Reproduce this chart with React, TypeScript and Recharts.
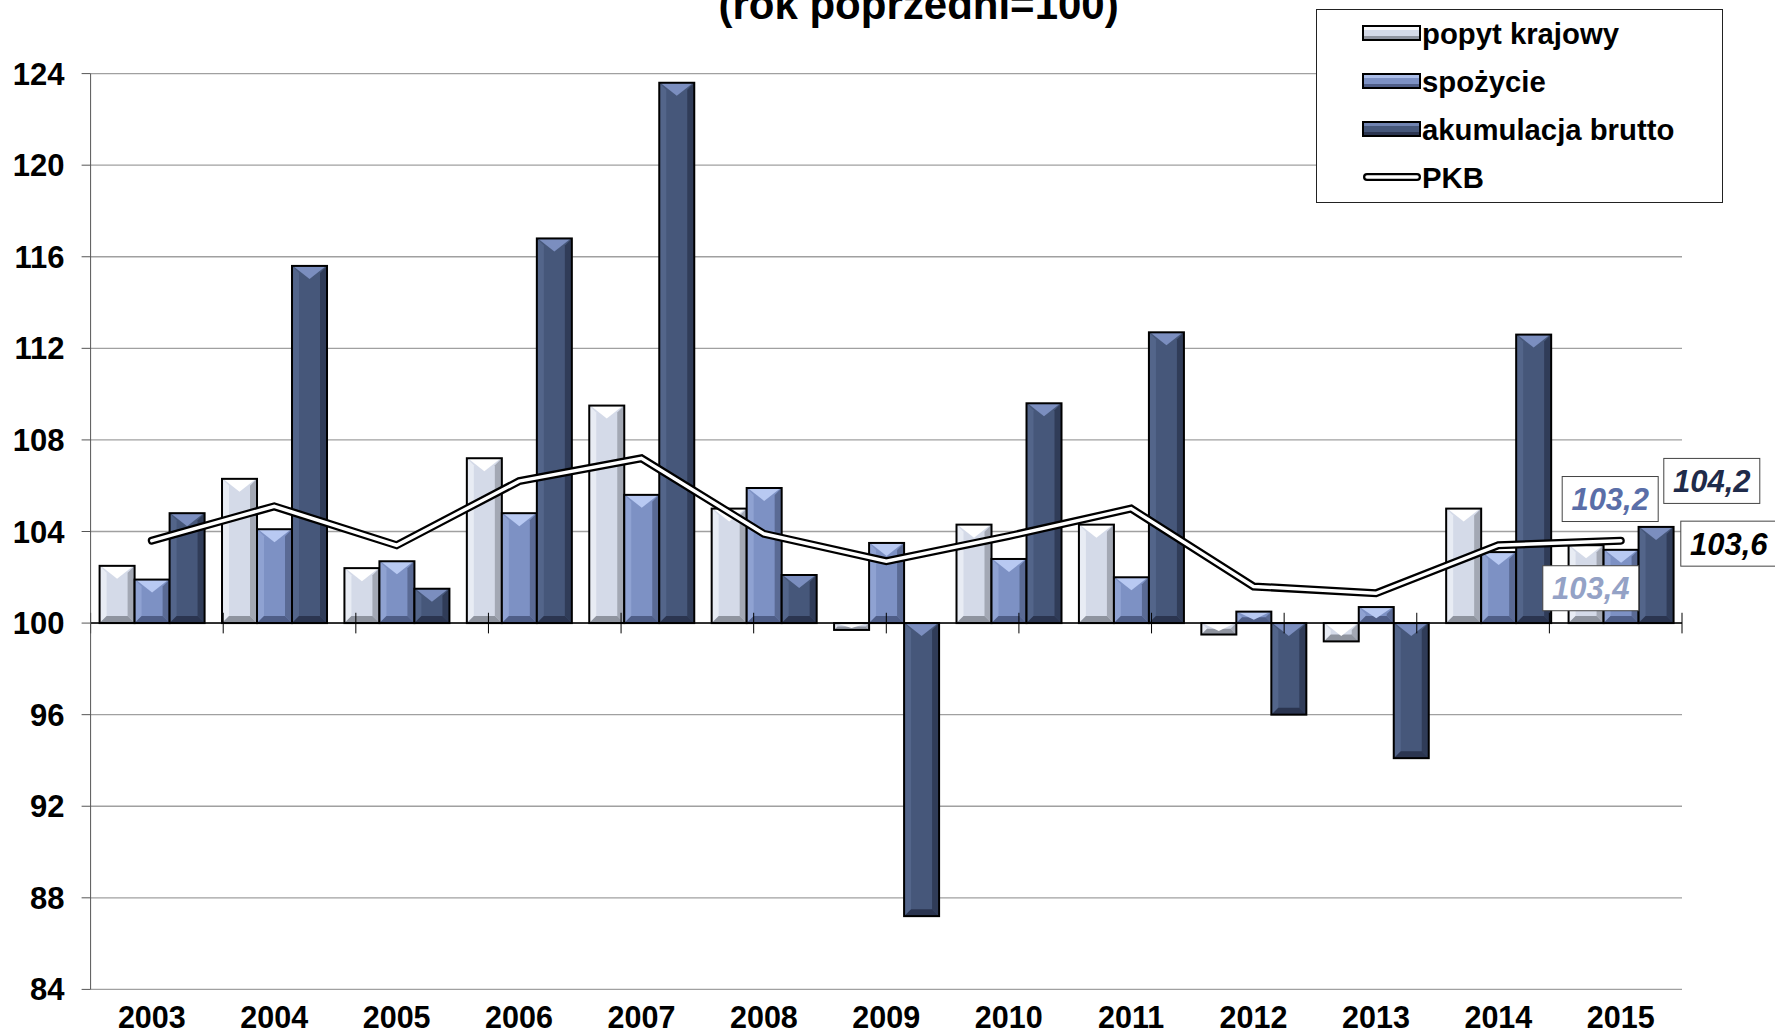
import { ComposedChart, Bar, Line, XAxis, YAxis, CartesianGrid, ReferenceLine, ReferenceDot, Legend } from 'recharts';

const years = ['2003', '2004', '2005', '2006', '2007', '2008', '2009', '2010', '2011', '2012', '2013', '2014', '2015'];
const popyt = [102.5, 106.3, 102.4, 107.2, 109.5, 105.0, 99.7, 104.3, 104.3, 99.5, 99.2, 105.0, 103.4];
const spozycie = [101.9, 104.1, 102.7, 104.8, 105.6, 105.9, 103.5, 102.8, 102.0, 100.5, 100.7, 103.1, 103.2];
const akumulacja = [104.8, 115.6, 101.5, 116.8, 123.6, 102.1, 87.2, 109.6, 112.7, 96.0, 94.1, 112.6, 104.2];
const pkb = [103.6, 105.1, 103.4, 106.2, 107.2, 103.9, 102.7, 103.8, 105.0, 101.6, 101.3, 103.4, 103.6];
const yTicks = [84, 88, 92, 96, 100, 104, 108, 112, 116, 120, 124];

const FONT = '"Liberation Sans", Arial, sans-serif';

const data = years.map((year, i) => ({
  year,
  popyt: popyt[i],
  spozycie: spozycie[i],
  akumulacja: akumulacja[i],
  pkb: pkb[i],
}));

// bars hang from the 100 line, up or down
const span = (key: string) => (d: any) => (d[key] >= 100 ? [100, d[key]] : [d[key], 100]);

const PAL: Record<string, any> = {
  popyt: { face: '#d4dae8', left: '#e8ecf4', right: '#a3a8b4', bottom: '#8f949f', top: '#ffffff' },
  spozycie: { face: '#7d91c4', left: '#8fa2d2', right: '#5a6a94', bottom: '#4f5e88', top: '#b8c9f2' },
  akumulacja: { face: '#46577a', left: '#53658a', right: '#303c58', bottom: '#2b3550', top: '#7b8ebf' },
};

const BevelRect = (props: any) => {
  const { x, y, width, height, pal } = props;
  const top = height < 0 ? y + height : y;
  const h = Math.abs(height);
  const w = width;
  if (!w || !h) return null;
  const b = Math.min(7, w / 4, h / 2);
  const t = Math.min(13, h * 0.7);
  return (
    <g>
      <rect x={x} y={top} width={w} height={h} fill={pal.face} />
      <polygon points={`${x},${top} ${x + b},${top + b} ${x + b},${top + h - b} ${x},${top + h}`} fill={pal.left} />
      <polygon points={`${x + w},${top} ${x + w - b},${top + b} ${x + w - b},${top + h - b} ${x + w},${top + h}`} fill={pal.right} />
      <polygon points={`${x},${top + h} ${x + b},${top + h - b} ${x + w - b},${top + h - b} ${x + w},${top + h}`} fill={pal.bottom} />
      <polygon points={`${x + 1},${top} ${x + w - 1},${top} ${x + w / 2},${top + t}`} fill={pal.top} />
      <rect x={x} y={top} width={w} height={h} fill="none" stroke="#000" strokeWidth={2} />
    </g>
  );
};

const legendItems = [
  { name: 'popyt krajowy', pal: PAL.popyt },
  { name: 'spożycie', pal: PAL.spozycie },
  { name: 'akumulacja brutto', pal: PAL.akumulacja },
  { name: 'PKB', pal: null },
];

const LegendBox = () => (
  <svg width={408} height={195} style={{ display: 'block' }}>
    <rect x={0.5} y={0.5} width={406} height={193} fill="#fff" stroke="#222" strokeWidth={1} />
    {legendItems.map((it, i) => {
      const cy = 24 + i * 48;
      return (
        <g key={it.name}>
          {it.pal ? (
            <g>
              <rect x={47} y={cy - 7} width={57} height={14} fill={it.pal.face} />
              <rect x={47} y={cy - 7} width={57} height={4} fill={it.pal.top} opacity={0.8} />
              <rect x={47} y={cy + 3} width={57} height={4} fill={it.pal.bottom} />
              <rect x={47} y={cy - 7} width={57} height={14} fill="none" stroke="#000" strokeWidth={2} />
            </g>
          ) : (
            <g>
              <line x1={51} y1={cy} x2={101} y2={cy} stroke="#000" strokeWidth={8} strokeLinecap="round" />
              <line x1={51} y1={cy} x2={101} y2={cy} stroke="#fff" strokeWidth={3.5} strokeLinecap="round" />
            </g>
          )}
          <text x={106} y={cy} dy="0.36em" fontFamily={FONT} fontSize={29.3} fontWeight="bold" fill="#000">
            {it.name}
          </text>
        </g>
      );
    })}
  </svg>
);

const fmt = (v: number) => v.toFixed(1).replace('.', ',');

const AnnoBox = (props: any) => {
  const { cx, cy, dx, dy, text, color } = props;
  return (
    <g>
      <rect x={cx + dx - 48} y={cy + dy - 22.5} width={96} height={45} fill="#fff" stroke="#444" strokeWidth={1} />
      <text x={cx + dx} y={cy + dy} dy="0.36em" textAnchor="middle" fontFamily={FONT} fontSize={31}
        fontWeight="bold" fontStyle="italic" fill={color}>
        {text}
      </text>
    </g>
  );
};

const last = years.length - 1;
const boundaries = Array.from({ length: years.length + 1 }, (_, i) => i);

export default function App() {
  return (
    <div style={{ position: 'fixed', left: 0, top: 0, width: 1775, height: 1034, background: '#fff' }}>
      <svg width={1775} height={40} style={{ position: 'absolute', left: 0, top: 0, zIndex: 2 }}>
        <text x={918.6} y={19} textAnchor="middle" fontFamily={FONT} fontSize={42} fontWeight="bold" fill="#000">
          (rok poprzedni=100)
        </text>
      </svg>
      <ComposedChart
        width={1775}
        height={1034}
        data={data}
        margin={{ top: 73.6, right: 93, left: 0, bottom: 0 }}
        barCategoryGap={9}
        barGap={0}
      >
        <CartesianGrid horizontal vertical={false} stroke="#a0a0a0" strokeWidth={1.3} />
        <XAxis
          dataKey="year"
          axisLine={false}
          tickLine={false}
          tickSize={0}
          tickMargin={17}
          height={44.6}
          interval={0}
          tick={{ fontSize: 30.5, fontWeight: 'bold', fill: '#000', fontFamily: FONT }}
        />
        <XAxis xAxisId="b" type="number" domain={[0, years.length]} hide />
        <YAxis
          domain={[84, 124]}
          ticks={yTicks}
          interval={0}
          allowDataOverflow
          width={90.6}
          tickSize={9}
          tickMargin={17}
          axisLine={{ stroke: '#555' }}
          tickLine={{ stroke: '#555' }}
          tick={{ fontSize: 31, fontWeight: 'bold', fill: '#000', fontFamily: FONT }}
        />
        <ReferenceLine y={100} stroke="#000" strokeWidth={1.5} />
        {boundaries.map((i) => (
          <ReferenceLine
            key={i}
            xAxisId="b"
            segment={[{ x: i, y: 99.55 }, { x: i, y: 100.45 }]}
            stroke="#000"
            strokeWidth={1}
          />
        ))}
        <Legend
          layout="vertical"
          verticalAlign="middle"
          align="center"
          content={() => <LegendBox />}
          wrapperStyle={{ position: 'absolute', left: 1316, top: 9, width: 408, height: 195 }}
        />
        <Bar name="popyt krajowy" dataKey={span('popyt')} isAnimationActive={false}
          shape={(p: any) => <BevelRect {...p} pal={PAL.popyt} />} />
        <Bar name="spożycie" dataKey={span('spozycie')} isAnimationActive={false}
          shape={(p: any) => <BevelRect {...p} pal={PAL.spozycie} />} />
        <Bar name="akumulacja brutto" dataKey={span('akumulacja')} isAnimationActive={false}
          shape={(p: any) => <BevelRect {...p} pal={PAL.akumulacja} />} />
        <Line name="PKB" dataKey="pkb" stroke="#000" strokeWidth={8} strokeLinecap="round"
          dot={false} activeDot={false} isAnimationActive={false} />
        <Line name="PKB-inner" dataKey="pkb" stroke="#fff" strokeWidth={3.5} strokeLinecap="round"
          dot={false} activeDot={false} legendType="none" isAnimationActive={false} />
        <ReferenceDot x={years[last]} y={popyt[last]} r={0} ifOverflow="visible"
          shape={(p: any) => <AnnoBox {...p} dx={-30} dy={43} text={fmt(popyt[last])} color="#94a2c6" />} />
        <ReferenceDot x={years[last]} y={spozycie[last]} r={0} ifOverflow="visible"
          shape={(p: any) => <AnnoBox {...p} dx={-10.6} dy={-50.8} text={fmt(spozycie[last])} color="#5a6ea8" />} />
        <ReferenceDot x={years[last]} y={akumulacja[last]} r={0} ifOverflow="visible"
          shape={(p: any) => <AnnoBox {...p} dx={91} dy={-46} text={fmt(akumulacja[last])} color="#1f2b4a" />} />
        <ReferenceDot x={years[last]} y={pkb[last]} r={0} ifOverflow="visible"
          shape={(p: any) => <AnnoBox {...p} dx={108} dy={3} text={fmt(pkb[last])} color="#000" />} />
      </ComposedChart>
    </div>
  );
}
